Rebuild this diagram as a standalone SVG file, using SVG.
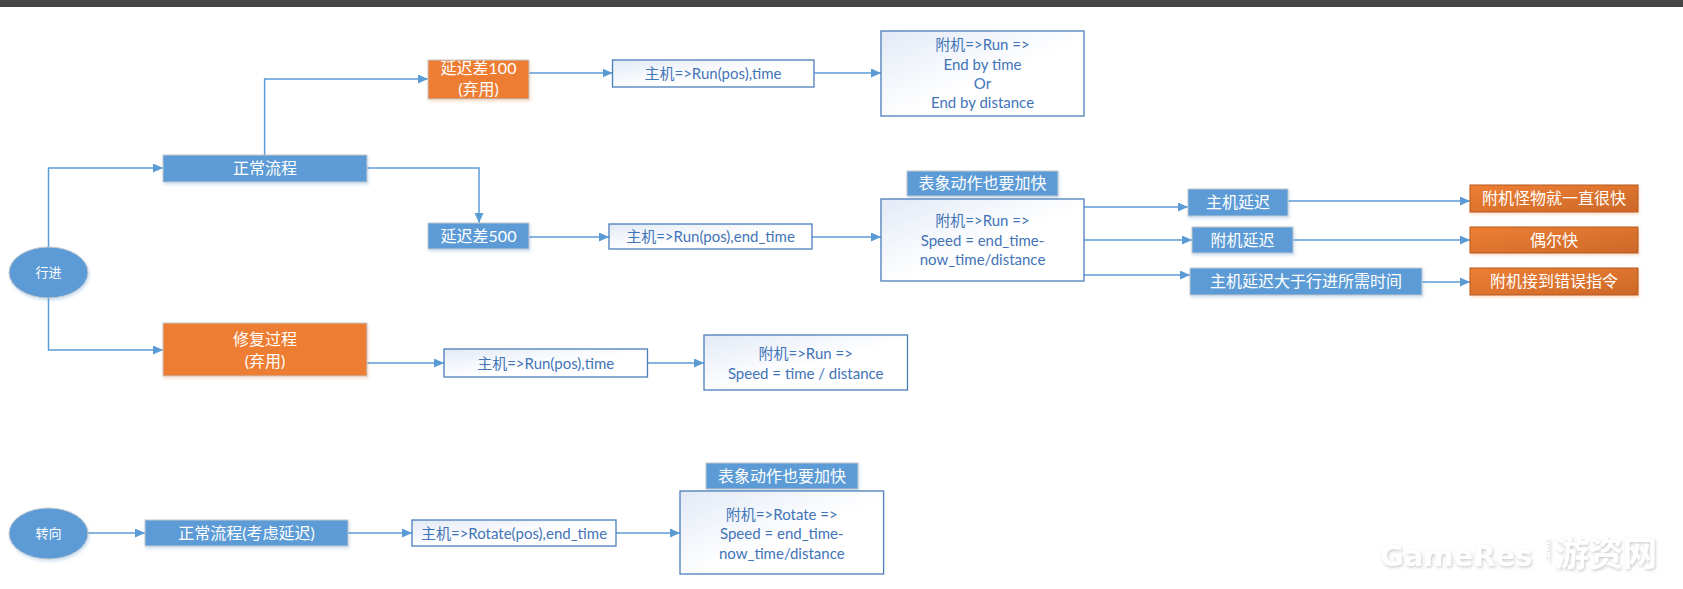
<svg xmlns="http://www.w3.org/2000/svg" width="1683" height="589" viewBox="0 0 1683 589">
<style>
text{font-family:"Lato","Noto Sans CJK SC","Noto Sans",sans-serif;text-anchor:middle}
.blue{fill:#5B9BD5;stroke:#C4C8CE;stroke-width:1;filter:url(#sh)}
.org{fill:#ED7D31;stroke:#C4C8CE;stroke-width:1;filter:url(#sh2)}
.org2{fill:url(#og);stroke:#B5581E;stroke-width:1;filter:url(#sh2)}
.wbox{fill:url(#wg);stroke:#4A7EBB;stroke-width:1.3}
.wt{fill:#FFFFFF;font-size:16px}
.st{fill:#FFFFFF;font-size:13px}
.bt{fill:#4274B8;font-size:15px}
.conn path{fill:none;stroke:#5B9BD5;stroke-width:1.5;marker-end:url(#ah)}
.wm{fill:#FFFFFF;font-weight:bold;filter:url(#wsh)}
</style>
<defs>
<marker id="ah" markerUnits="userSpaceOnUse" markerWidth="10" markerHeight="9" refX="10" refY="4.5" orient="auto">
<path d="M0,0 L10,4.5 L0,9 z" fill="#5B9BD5"/>
</marker>
<linearGradient id="wg" x1="0" y1="0" x2="1" y2="1">
<stop offset="0" stop-color="#E3EAF6"/>
<stop offset="0.55" stop-color="#FFFFFF"/>
<stop offset="1" stop-color="#FFFFFF"/>
</linearGradient>
<linearGradient id="og" x1="0" y1="0" x2="1" y2="1">
<stop offset="0" stop-color="#EE7F33"/>
<stop offset="1" stop-color="#CC6829"/>
</linearGradient>
<filter id="sh" x="-10%" y="-30%" width="120%" height="170%">
<feDropShadow dx="1" dy="2" stdDeviation="1.5" flood-color="#5B9BD5" flood-opacity="0.3"/>
</filter>
<filter id="sh2" x="-10%" y="-30%" width="120%" height="170%">
<feDropShadow dx="1" dy="2" stdDeviation="1.5" flood-color="#ED7D31" flood-opacity="0.25"/>
</filter>
<filter id="wsh" x="-10%" y="-30%" width="120%" height="170%">
<feDropShadow dx="1" dy="1.5" stdDeviation="1.5" flood-color="#A0A0A0" flood-opacity="0.55"/>
</filter>
</defs>
<rect x="0" y="0" width="1683" height="589" fill="#FFFFFF"/>
<rect x="0" y="0" width="1683" height="7" fill="#454545"/>

<g class="conn" id="connectors">
<path d="M48.5,247 V168 H163"/>
<path d="M264.6,155 V79 H428"/>
<path d="M367,168 H479 V223"/>
<path d="M48.5,298 V350 H163"/>
<path d="M529,73 H612.5"/>
<path d="M814,73 H881"/>
<path d="M529,237 H609"/>
<path d="M812,237 H881"/>
<path d="M1084,207 H1188"/>
<path d="M1084,240 H1192"/>
<path d="M1084,275 H1190"/>
<path d="M1288,201 H1470"/>
<path d="M1293,240 H1470"/>
<path d="M1422,282 H1470"/>
<path d="M367,363 H444"/>
<path d="M647.5,363 H704"/>
<path d="M88,533 H145"/>
<path d="M348,533 H412"/>
<path d="M616,533 H680"/>
</g>

<g id="n-xingjin">
<ellipse cx="48.5" cy="272.5" rx="39.5" ry="25.5" class="blue" stroke="none"/>
<text x="48.5" y="277" class="st">行进</text>
</g>
<g id="n-zhengchang">
<rect x="163" y="155" width="204" height="27" class="blue"/>
<text x="265" y="174" class="wt">正常流程</text>
</g>
<g id="n-yanchi100">
<rect x="428" y="60" width="101" height="39" class="org"/>
<text x="478.5" y="74" class="wt">延迟差100</text>
<text x="478.5" y="95" class="wt">(弃用)</text>
</g>
<g id="n-yanchi500">
<rect x="428" y="223" width="101" height="26" class="blue"/>
<text x="478.5" y="242" class="wt">延迟差500</text>
</g>
<g id="n-xiufu">
<rect x="163" y="323" width="204" height="53" class="org"/>
<text x="265" y="345" class="wt">修复过程</text>
<text x="265" y="367" class="wt">(弃用)</text>
</g>
<g id="n-run-time">
<rect x="612.5" y="60" width="201.5" height="27" class="wbox"/>
<text x="713" y="79" class="bt">主机=&gt;Run(pos),time</text>
</g>
<g id="n-fuji-end">
<rect x="881" y="31" width="203" height="85" class="wbox"/>
<text x="982.5" y="50" class="bt">附机=&gt;Run =&gt;</text>
<text x="982.5" y="70" class="bt">End by time</text>
<text x="982.5" y="89" class="bt">Or</text>
<text x="982.5" y="108" class="bt">End by distance</text>
</g>
<g id="n-biaoxiang1">
<rect x="907" y="171" width="151" height="25" class="blue"/>
<text x="982.5" y="189" class="wt">表象动作也要加快</text>
</g>
<g id="n-run-endtime">
<rect x="609" y="224" width="203" height="25" class="wbox"/>
<text x="710.5" y="242" class="bt">主机=&gt;Run(pos),end_time</text>
</g>
<g id="n-fuji-speed">
<rect x="881" y="199" width="203" height="82" class="wbox"/>
<text x="982.5" y="226" class="bt">附机=&gt;Run =&gt;</text>
<text x="982.5" y="246" class="bt">Speed = end_time-</text>
<text x="982.5" y="265" class="bt">now_time/distance</text>
</g>
<g id="n-zhuji-yanchi">
<rect x="1188" y="189" width="100" height="27" class="blue"/>
<text x="1238" y="208" class="wt">主机延迟</text>
</g>
<g id="n-fuji-yanchi">
<rect x="1192" y="227" width="101" height="26" class="blue"/>
<text x="1242.5" y="246" class="wt">附机延迟</text>
</g>
<g id="n-zhuji-dayu">
<rect x="1190" y="268" width="232" height="27" class="blue"/>
<text x="1306" y="287" class="wt">主机延迟大于行进所需时间</text>
</g>
<g id="n-guaiwu">
<rect x="1470" y="185" width="168" height="27" class="org2"/>
<text x="1554" y="204" class="wt">附机怪物就一直很快</text>
</g>
<g id="n-ouer">
<rect x="1470" y="227" width="168" height="26" class="org2"/>
<text x="1554" y="246" class="wt">偶尔快</text>
</g>
<g id="n-cuowu">
<rect x="1470" y="268" width="168" height="27" class="org2"/>
<text x="1554" y="287" class="wt">附机接到错误指令</text>
</g>
<g id="n-run-time2">
<rect x="444" y="349" width="203.5" height="28" class="wbox"/>
<text x="545.7" y="369" class="bt">主机=&gt;Run(pos),time</text>
</g>
<g id="n-fuji-speed-time">
<rect x="704" y="335" width="203.5" height="55" class="wbox"/>
<text x="805.7" y="359" class="bt">附机=&gt;Run =&gt;</text>
<text x="805.7" y="379" class="bt">Speed = time / distance</text>
</g>
<g id="n-zhuanxiang">
<ellipse cx="48.5" cy="533.5" rx="39.5" ry="25.5" class="blue" stroke="none"/>
<text x="48.5" y="538" class="st">转向</text>
</g>
<g id="n-zhengchang2">
<rect x="145" y="520" width="203" height="26" class="blue"/>
<text x="246.5" y="539" class="wt">正常流程(考虑延迟)</text>
</g>
<g id="n-rotate">
<rect x="412" y="520" width="204" height="26" class="wbox"/>
<text x="514" y="539" class="bt">主机=&gt;Rotate(pos),end_time</text>
</g>
<g id="n-biaoxiang2">
<rect x="706" y="463" width="152" height="26" class="blue"/>
<text x="782" y="482" class="wt">表象动作也要加快</text>
</g>
<g id="n-fuji-rotate">
<rect x="680" y="491" width="203.6" height="83" class="wbox"/>
<text x="781.8" y="520" class="bt">附机=&gt;Rotate =&gt;</text>
<text x="781.8" y="539" class="bt">Speed = end_time-</text>
<text x="781.8" y="559" class="bt">now_time/distance</text>
</g>

<g id="watermark">
<text x="1380" y="566" font-size="29" class="wm" style="font-family:'DejaVu Sans',sans-serif;text-anchor:start">GameRes</text>
<text x="1550" y="566" font-size="9" class="wm" transform="rotate(-90 1550 566)" style="font-family:'DejaVu Sans',sans-serif;text-anchor:start">.com</text>
<text x="1555" y="566" font-size="34" class="wm" style="font-family:'Noto Sans CJK SC',sans-serif;text-anchor:start">游资网</text>
</g>
</svg>
